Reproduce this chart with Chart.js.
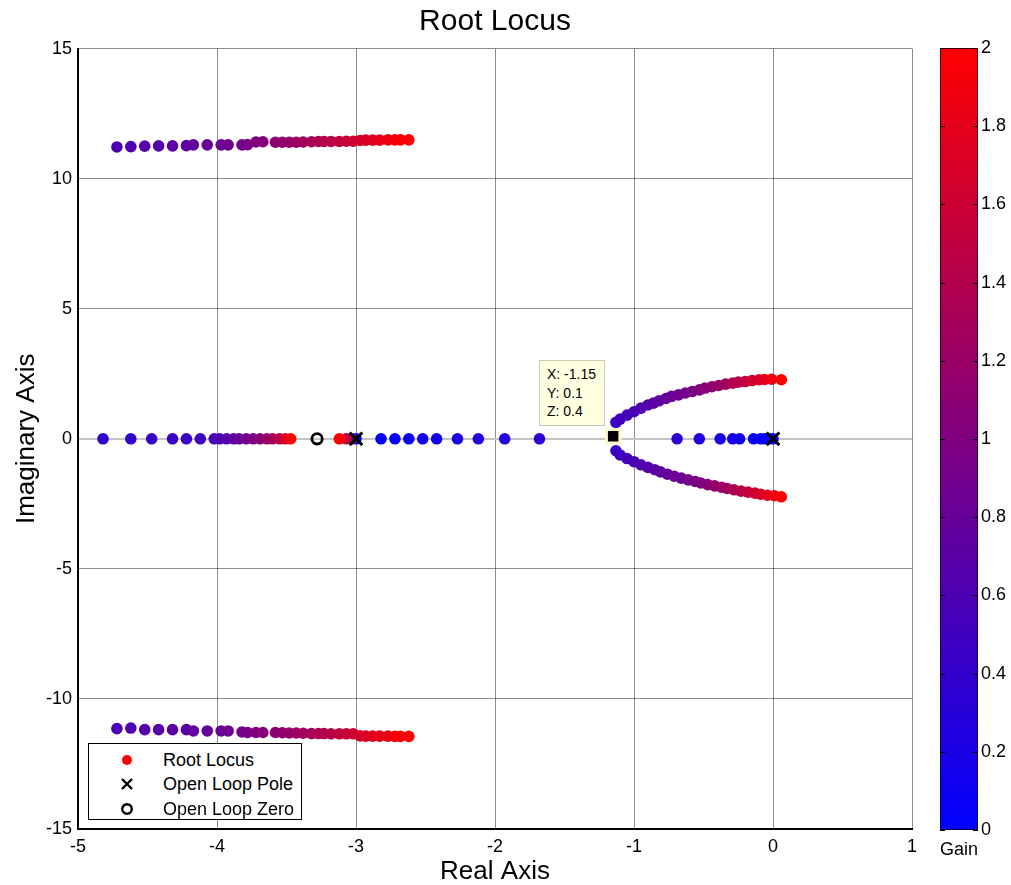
<!DOCTYPE html>
<html>
<head>
<meta charset="utf-8">
<title>Root Locus</title>
<script src="https://cdn.jsdelivr.net/npm/chart.js@4.4.0/dist/chart.umd.min.js"></script>
<style>
  html, body { margin: 0; padding: 0; background: #fff; }
  body { width: 1011px; height: 885px; position: relative; overflow: hidden;
         font-family: 'Liberation Sans', Arial, sans-serif; color: #000; }
  #main { position: absolute; left: 0; top: 0; }
  #bar { position: absolute; left: 930px; top: 0; }
  .legend { position: absolute; left: 88px; top: 743px; width: 212px; height: 75px;
            border: 1.5px solid #000; background: #fff; font-size: 18px; }
  .legend .row { position: absolute; left: 0; height: 25px; line-height: 25px; }
  .legend .sym { position: absolute; left: 31px; top: 5px; width: 14px; height: 14px; }
  .legend .txt { position: absolute; left: 74px; white-space: nowrap; }
  .tip { position: absolute; left: 539px; top: 360px; width: 57px; height: 60px;
         padding: 4px 0 0 7px; background: #ffffe1; border: 1px solid #c9c9b5;
         font-size: 14px; line-height: 18.5px; }
  .gain { position: absolute; left: 934px; top: 839px; width: 50px; text-align: center; font-size: 18px; }
</style>
</head>
<body>
<canvas id="main" width="1011" height="885"></canvas>
<canvas id="bar" width="81" height="885"></canvas>

<div class="legend">
  <div class="row" style="top:4px">
    <svg class="sym" viewBox="0 0 14 14"><circle cx="7" cy="7" r="5" fill="#ff0000"/></svg>
    <span class="txt">Root Locus</span>
  </div>
  <div class="row" style="top:28px">
    <svg class="sym" viewBox="0 0 14 14"><path d="M2 2L12 12M12 2L2 12" stroke="#000" stroke-width="2.4"/></svg>
    <span class="txt">Open Loop Pole</span>
  </div>
  <div class="row" style="top:53px">
    <svg class="sym" viewBox="0 0 14 14"><circle cx="7" cy="7" r="4.8" fill="none" stroke="#000" stroke-width="2.4"/></svg>
    <span class="txt">Open Loop Zero</span>
  </div>
</div>

<div class="tip">X: -1.15<br>Y: 0.1<br>Z: 0.4</div>
<div class="gain">Gain</div>

<script>
// Far complex branches (upper and lower share real parts)
const farX = [-4.72, -4.62, -4.52, -4.42, -4.32, -4.22, -4.17, -4.07, -3.97, -3.92, -3.82, -3.78,
              -3.72, -3.67, -3.58, -3.53, -3.48, -3.43, -3.38, -3.32, -3.27, -3.23, -3.18, -3.12,
              -3.07, -3.02, -2.97, -2.93, -2.88, -2.83, -2.77, -2.72, -2.68, -2.62];
const farUpperY = [11.22, 11.23, 11.25, 11.26, 11.26, 11.27, 11.30, 11.30, 11.30, 11.30, 11.30, 11.31,
                   11.41, 11.42, 11.40, 11.40, 11.40, 11.40, 11.41, 11.42, 11.43, 11.43, 11.43, 11.43,
                   11.44, 11.44, 11.47, 11.48, 11.48, 11.48, 11.49, 11.49, 11.49, 11.49];
const farLowerY = [-11.14, -11.12, -11.18, -11.18, -11.18, -11.18, -11.23, -11.23, -11.23, -11.23, -11.27, -11.29,
                   -11.29, -11.29, -11.29, -11.30, -11.31, -11.31, -11.32, -11.33, -11.33, -11.33, -11.34, -11.34,
                   -11.34, -11.34, -11.42, -11.43, -11.43, -11.43, -11.43, -11.44, -11.44, -11.44];
const farGain = [0.58, 0.62, 0.65, 0.68, 0.71, 0.74, 0.77, 0.80, 0.84, 0.87, 0.92, 0.96,
                 1.00, 1.05, 1.10, 1.14, 1.18, 1.22, 1.26, 1.31, 1.36, 1.40, 1.45, 1.50,
                 1.55, 1.60, 1.65, 1.70, 1.75, 1.80, 1.86, 1.91, 1.95, 2.00];

// Real-axis branches
const realLeftX = [-4.82, -4.62, -4.47, -4.32, -4.22, -4.12, -4.02, -3.98, -3.93, -3.88, -3.84, -3.79,
                   -3.74, -3.69, -3.64, -3.60, -3.55, -3.51, -3.47];
const realLeftGain = [0.38, 0.40, 0.42, 0.45, 0.47, 0.50, 0.55, 0.60, 0.66, 0.73, 0.80, 0.88,
                      0.97, 1.07, 1.18, 1.30, 1.45, 1.65, 2.00];
const nearPoleX = [-3.00, -3.03, -3.07, -3.12];
const nearPoleGain = [0.05, 0.90, 1.50, 2.00];
const realMidX = [-2.82, -2.72, -2.62, -2.52, -2.42, -2.27, -2.12, -1.93, -1.68];
const realMidGain = [0.05, 0.08, 0.10, 0.13, 0.16, 0.20, 0.24, 0.30, 0.36];
const realRightX = [0.00, -0.03, -0.06, -0.09, -0.14, -0.24, -0.29, -0.38, -0.53, -0.69];
const realRightGain = [0.01, 0.02, 0.04, 0.06, 0.08, 0.12, 0.15, 0.20, 0.27, 0.35];

// Near complex branches leaving the breakaway point
const curveUpX = [-1.13, -1.10, -1.05, -1.00, -0.95, -0.90, -0.86, -0.82, -0.77, -0.73, -0.68, -0.63, -0.58,
                  -0.53, -0.49, -0.44, -0.39, -0.34, -0.29, -0.25, -0.20, -0.15, -0.10, -0.06, -0.01, 0.06];
const curveUpY = [0.63, 0.76, 0.91, 1.04, 1.18, 1.30, 1.37, 1.46, 1.55, 1.63, 1.69, 1.76, 1.82,
                  1.88, 1.95, 2.00, 2.05, 2.10, 2.14, 2.18, 2.20, 2.24, 2.27, 2.28, 2.29, 2.27];
const curveDownX = [-1.13, -1.10, -1.05, -1.00, -0.95, -0.90, -0.85, -0.81, -0.76, -0.71, -0.66, -0.61, -0.56,
                    -0.52, -0.47, -0.42, -0.37, -0.33, -0.28, -0.23, -0.18, -0.13, -0.09, -0.04, 0.01, 0.06];
const curveDownY = [-0.46, -0.62, -0.76, -0.88, -1.00, -1.10, -1.19, -1.27, -1.36, -1.44, -1.51, -1.58, -1.64,
                    -1.70, -1.76, -1.81, -1.86, -1.91, -1.96, -2.01, -2.05, -2.09, -2.13, -2.17, -2.19, -2.23];
const curveGain = [0.45, 0.50, 0.54, 0.58, 0.62, 0.66, 0.70, 0.74, 0.78, 0.82, 0.86, 0.91, 0.96,
                   1.01, 1.07, 1.13, 1.20, 1.27, 1.35, 1.43, 1.52, 1.60, 1.69, 1.78, 1.88, 2.00];

// Open loop poles / zero, data tip
const poleX = [-3, 0];
const zeroX = [-3.28];
const tipX = -1.15, tipY = 0.1;

// Axes
const xMin = -5, xMax = 1, xStep = 1;
const yMin = -15, yMax = 15, yStep = 5;
const gainMin = 0, gainMax = 2, gainStep = 0.2;

Chart.defaults.font.family = "'Liberation Sans', Arial, sans-serif";
Chart.defaults.color = '#000';

function gainColor(g) {
    const t = Math.min(Math.max((g - gainMin) / (gainMax - gainMin), 0), 1);
    return `rgb(${Math.round(255 * t)},0,${Math.round(255 * (1 - t))})`;
}

function toPoints(xs, ys) {
    return xs.map((x, i) => ({ x: x, y: ys ? ys[i] : 0 }));
}

function branch(label, xs, ys, gains) {
    return {
        label: label,
        data: toPoints(xs, ys),
        pointRadius: 5.8,
        pointBorderWidth: 0,
        pointBackgroundColor: gains.map(gainColor),
        showLine: false,
        order: 3
    };
}

const gridColor = 'rgba(0,0,0,0.45)';

new Chart(document.getElementById('main'), {
    type: 'scatter',
    data: {
        datasets: [
            {
                label: 'Data tip',
                data: [{ x: tipX, y: tipY }],
                pointStyle: 'rect',
                pointRadius: 9.5,
                pointBackgroundColor: '#000',
                pointBorderColor: '#fff8c8',
                pointBorderWidth: 3,
                order: 0
            },
            {
                label: 'Open Loop Pole',
                data: toPoints(poleX),
                pointStyle: 'crossRot',
                pointRadius: 9,
                pointBorderColor: '#000',
                pointBorderWidth: 3,
                order: 1
            },
            {
                label: 'Open Loop Zero',
                data: toPoints(zeroX),
                pointStyle: 'circle',
                pointRadius: 5.2,
                pointBackgroundColor: 'rgba(0,0,0,0)',
                pointBorderColor: '#000',
                pointBorderWidth: 2.8,
                order: 1
            },
            branch('Upper far', farX, farUpperY, farGain),
            branch('Lower far', farX, farLowerY, farGain),
            branch('Real left', realLeftX, null, realLeftGain),
            branch('Near pole', nearPoleX, null, nearPoleGain),
            branch('Real mid', realMidX, null, realMidGain),
            branch('Real right', realRightX, null, realRightGain),
            branch('Upper near', curveUpX, curveUpY, curveGain),
            branch('Lower near', curveDownX, curveDownY, curveGain)
        ]
    },
    options: {
        responsive: false,
        animation: false,
        events: [],
        layout: { padding: { left: 0, right: 99, top: 0, bottom: 0 } },
        plugins: {
            legend: { display: false },
            tooltip: { enabled: false },
            title: {
                display: true,
                fullSize: false,
                text: 'Root Locus',
                color: '#000',
                font: { size: 30, weight: 'normal', lineHeight: 1.2 },
                padding: { top: 4, bottom: 8.6 }
            }
        },
        scales: {
            x: {
                type: 'linear',
                min: xMin, max: xMax,
                ticks: { stepSize: xStep, color: '#000', font: { size: 18 }, padding: 7 },
                grid: { color: gridColor, lineWidth: 1, drawTicks: false },
                border: { color: '#000', width: 2 },
                title: { display: true, text: 'Real Axis', color: '#000', font: { size: 26, lineHeight: 1 }, padding: 0 },
                afterFit(s) { s.height = 56; }
            },
            y: {
                type: 'linear',
                min: yMin, max: yMax,
                ticks: { stepSize: yStep, color: '#000', font: { size: 18 }, padding: 6 },
                grid: {
                    color: (c) => (c.tick && c.tick.value === 0 ? '#c4c4c4' : gridColor),
                    lineWidth: (c) => (c.tick && c.tick.value === 0 ? 2 : 1),
                    drawTicks: false
                },
                border: { color: '#000', width: 2 },
                title: { display: true, text: 'Imaginary Axis', color: '#000', font: { size: 26, lineHeight: 1.2 }, padding: { top: 11, bottom: 0 } },
                afterFit(s) { s.width = 78; }
            }
        }
    }
});

// Colorbar: one floating bar filled with the gain colormap
const innerTicks = {
    id: 'innerTicks',
    afterDatasetsDraw(chart) {
        const s = chart.scales.y;
        const a = chart.chartArea;
        const ctx = chart.ctx;
        ctx.save();
        ctx.strokeStyle = '#000';
        ctx.lineWidth = 1;
        s.ticks.forEach(t => {
            const y = Math.round(s.getPixelForValue(t.value)) + 0.5;
            ctx.beginPath();
            ctx.moveTo(a.left, y); ctx.lineTo(a.left + 5, y);
            ctx.moveTo(a.right - 5, y); ctx.lineTo(a.right, y);
            ctx.stroke();
        });
        ctx.restore();
    }
};

new Chart(document.getElementById('bar'), {
    type: 'bar',
    data: {
        labels: ['Gain'],
        datasets: [{
            data: [[gainMin, gainMax]],
            backgroundColor: (c) => {
                const area = c.chart.chartArea;
                if (!area) return gainColor(gainMin);
                const g = c.chart.ctx.createLinearGradient(0, area.bottom, 0, area.top);
                g.addColorStop(0, gainColor(gainMin));
                g.addColorStop(0.5, gainColor((gainMin + gainMax) / 2));
                g.addColorStop(1, gainColor(gainMax));
                return g;
            },
            borderColor: '#000',
            borderWidth: 1,
            borderSkipped: false,
            barPercentage: 1,
            categoryPercentage: 1
        }]
    },
    options: {
        responsive: false,
        animation: false,
        events: [],
        layout: { padding: { left: 10, right: 0, top: 48, bottom: 55 } },
        plugins: { legend: { display: false }, tooltip: { enabled: false } },
        scales: {
            x: { display: false },
            y: {
                position: 'right',
                min: gainMin, max: gainMax,
                ticks: {
                    stepSize: gainStep, color: '#000', font: { size: 18 }, padding: 3,
                    callback: (v) => String(Number(v.toFixed(1)))
                },
                grid: { display: false, drawTicks: false },
                border: { display: false },
                afterFit(s) { s.width = 33; }
            }
        }
    },
    plugins: [innerTicks]
});
</script>
</body>
</html>
